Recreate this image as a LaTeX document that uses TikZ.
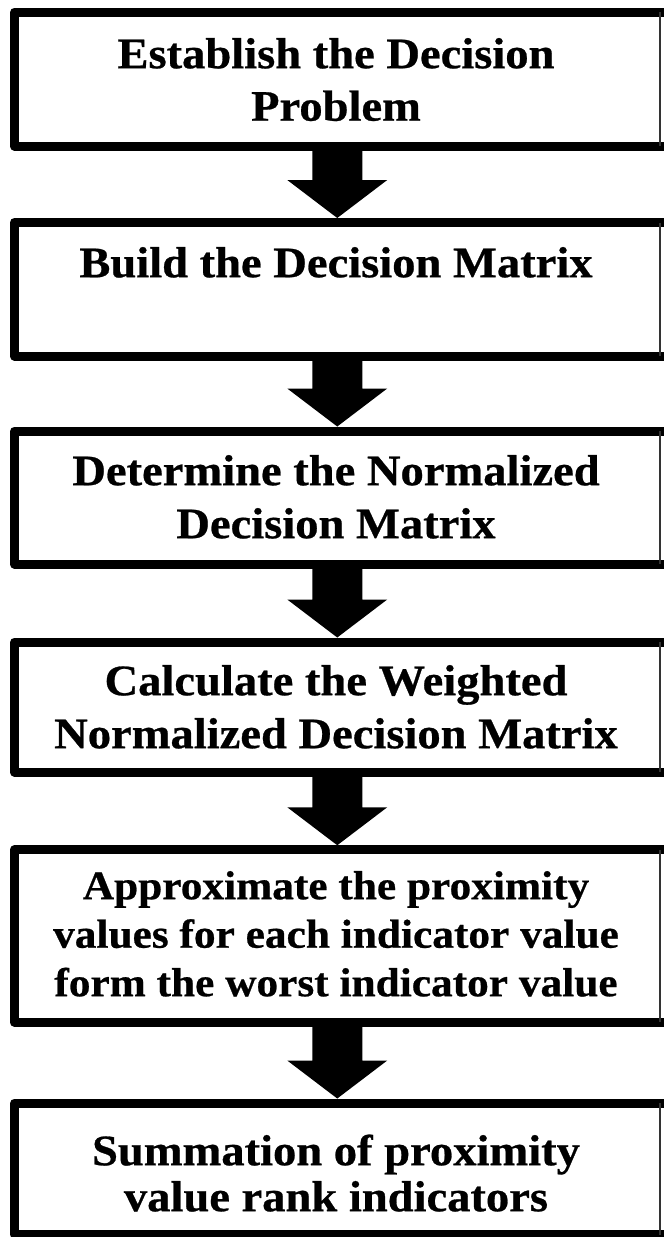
\documentclass[tikz,border=0pt]{standalone}
\usepackage{fontspec}
\newfontfamily\boxfont{Liberation Serif}[FakeStretch=1.07,FakeBold=0.6]
\usetikzlibrary{calc}
\newcommand\myframe[1]{%
  \draw[frameline] ([xshift=10pt]#1.north east) -- (#1.north west) -- (#1.south west) -- ([xshift=10pt]#1.south east);
  \draw[hairline] (#1.north east) -- (#1.south east);}
\newcommand\myarrow[2]{%
  \fill let \p1=(#1.south), \p2=([yshift=4.5pt]#2.north) in
    (\x1-25pt,\y1) -- (\x1-25pt,\y2+38pt) -- (\x1-50pt,\y2+38pt) -- (\x2,\y2)
    -- (\x1+50pt,\y2+38pt) -- (\x1+25pt,\y2+38pt) -- (\x1+25pt,\y1) -- cycle;}
\begin{document}
\begin{tikzpicture}[x=1pt,y=-1pt,
  framebox/.style={draw=none, inner sep=0pt, outer sep=0pt, minimum width=645.5pt},
  frameline/.style={line width=9pt, line join=round, black},
  hairline/.style={line width=1.5pt, black!80},
  steptext/.style={font=\boxfont\bfseries\fontsize{43.5}{53}\selectfont, align=center, inner sep=0pt, anchor=north},
  smalltext/.style={font=\boxfont\bfseries\fontsize{40.5}{48.5}\selectfont, align=center, inner sep=0pt, anchor=north}]
\useasboundingbox (0,0) rectangle (664,1237);
\fill[white] (0,0) rectangle (664,1237);

\node[framebox, minimum height=134pt]   (b1) at (337.25,79) {};
\node[framebox, minimum height=133.5pt] (b2) at (337.25,289.25) {};
\node[framebox, minimum height=133pt]   (b3) at (337.25,497.5) {};
\node[framebox, minimum height=130pt]   (b4) at (337.25,707) {};
\node[framebox, minimum height=172.5pt] (b5) at (337.25,936) {};
\node[framebox, minimum height=131.5pt] (b6) at (337.25,1168.75) {};

\myframe{b1}\myframe{b2}\myframe{b3}\myframe{b4}\myframe{b5}\myframe{b6}

\node[steptext, font=\boxfont\bfseries\fontsize{43.5}{52.5}\selectfont] (t1) at (336,31.25)
  {\strut Establish the Decision\\\strut Problem};
\node[steptext] (t2) at (336,239.9) {\strut Build the Decision Matrix};
\node[steptext] (t3) at (336,447.9) {\strut Determine the Normalized\\\strut Decision Matrix};
\node[steptext] (t4) at (336,657.9) {\strut Calculate the Weighted\\\strut Normalized Decision Matrix};
\node[smalltext] (t5) at (336,865.05) {\strut Approximate the proximity\\\strut values for each indicator value\\\strut form the worst indicator value};
\node[steptext, font=\boxfont\bfseries\fontsize{43.5}{46}\selectfont] (t6) at (336,1132.8)
  {\strut Summation of proximity\\\strut value rank indicators};

\myarrow{b1}{b2}
\myarrow{b2}{b3}
\myarrow{b3}{b4}
\myarrow{b4}{b5}
\myarrow{b5}{b6}
\end{tikzpicture}
\end{document}
